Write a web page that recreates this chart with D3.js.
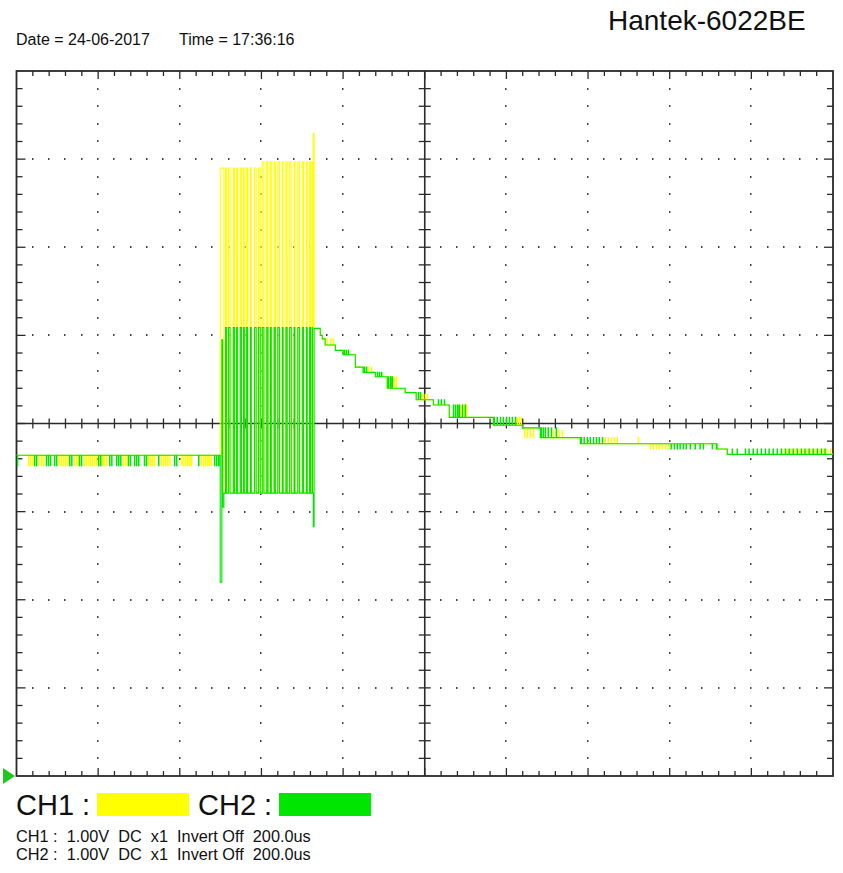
<!DOCTYPE html>
<html><head><meta charset="utf-8">
<script src="https://cdn.jsdelivr.net/npm/d3@7"></script>
<style>
html,body{margin:0;padding:0;background:#fff;}
svg{display:block;}
text{font-family:"Liberation Sans",Arial,sans-serif;fill:#111;}
</style></head><body>
<svg id="chart" width="843" height="873"></svg>
<script>
// ---------------- data ----------------
const titleText = "Hantek-6022BE";
const dateLabel = "Date = 24-06-2017";
const timeLabel = "Time = 17:36:16";
const channelNames = ["CH1 :", "CH2 :"];
const channelInfo = ["CH1 :  1.00V  DC  x1  Invert Off  200.0us",
                     "CH2 :  1.00V  DC  x1  Invert Off  200.0us"];
const timeDomain = [0, 2000];   // microseconds (10 div x 200us)
const voltDomain = [-4, 4];     // volts (8 div x 1.00V)
const divX = 10, divY = 8, subDiv = 5;

// burst (shared edges of both channels): time (us) and state 1=high 0=low
const burstTimes  = [508,512,514,519,523,531,534,539,541,548,551,556,558,563,566,573,575,583,587,593,597,602,606,613,616,622,624,631,634,640,644,651,653,660,663,669,673,680,682,689,693,700,703,710,712,718,720,724,725];
const burstStates = [0,1,0,1,0,1,0,1,0,1,0,1,0,1,0,1,0,1,0,1,0,1,0,1,0,1,0,1,0,1,0,1,0,1,0,1,0,1,0,1,0,1,0,1,0,1,0,1,0];

// CH1 (yellow)
const ch1Pre = [[0,-0.36],[499,2.90]];
const ch1BurstHigh = [[499,2.90],[600,2.97]];
const ch1BurstLow = -0.79;
const ch1Post = [[727,3.29]];
const ch1Decay = [[729,1.08],[744,1.00],[749,0.96],[756,0.89],[781,0.83],[800,0.78],[830,0.64],[849,0.58],[879,0.53],[908,0.40],[952,0.35],[979,0.27],[1021,0.21],[1060,0.07],[1168,-0.02],[1239,-0.05],[1283,-0.16],[1381,-0.23],[1716,-0.29],[1741,-0.35]];
const ch1Glitches = [
  [29,-0.48],[34,-0.48],[39,-0.48],[56,-0.48],[61,-0.48],[66,-0.48],[105,-0.48],[110,-0.48],[115,-0.48],[120,-0.48],[125,-0.48],
  [142,-0.48],[147,-0.48],[152,-0.48],[166,-0.48],[171,-0.48],[176,-0.48],[181,-0.48],[186,-0.48],[191,-0.48],[196,-0.48],
  [211,-0.48],[215,-0.48],[220,-0.48],[262,-0.48],[267,-0.48],[272,-0.48],[323,-0.48],[328,-0.48],[333,-0.48],[338,-0.48],
  [355,-0.48],[360,-0.48],[365,-0.48],[370,-0.48],[375,-0.48],[404,-0.48],[409,-0.48],[414,-0.48],[419,-0.48],[424,-0.48],[428,-0.48],
  [453,-0.48],[458,-0.48],[463,-0.48],[468,-0.48],[472,-0.48],[477,-0.48],
  [761,0.96],[769,0.96],[776,0.96],[803,0.83],[808,0.83],[862,0.64],[869,0.64],
  [916,0.53],[920,0.53],[925,0.53],[930,0.53],[991,0.33],[996,0.33],[1001,0.33],[1006,0.33],
  [1087,0.21],[1092,0.21],[1097,0.21],[1102,0.21],[1226,0.07],[1231,0.07],[1236,0.07],
  [1244,-0.16],[1251,-0.16],[1258,-0.16],[1266,-0.16],[1315,-0.08],[1322,-0.08],[1329,-0.08],[1337,-0.08],
  [1435,-0.16],[1442,-0.16],[1449,-0.16],[1457,-0.16],[1464,-0.16],[1471,-0.16],[1523,-0.16],
  [1552,-0.29],[1559,-0.29],[1567,-0.29],[1574,-0.29],[1581,-0.29],[1589,-0.29],[1596,-0.29],
  [1875,-0.29],[1887,-0.29],[1896,-0.29],[1906,-0.29],[1916,-0.29],[1926,-0.29],[1935,-0.29],[1945,-0.29],
  [1955,-0.29],[1965,-0.29],[1975,-0.29],[1984,-0.29],[1994,-0.29]
];

// CH2 (green)
const ch2Pre = [[0,-0.36],[499,-1.80],[503,0.95],[505,-0.95]];
const ch2BurstHigh = [[499,1.09]];
const ch2BurstLow = -0.79;
const ch2Post = [[727,-1.17]];
const ch2Decay = [[729,1.08],[744,1.00],[749,0.96],[756,0.89],[781,0.83],[800,0.78],[830,0.64],[849,0.58],[879,0.53],[908,0.40],[952,0.35],[979,0.27],[1021,0.21],[1060,0.07],[1168,-0.02],[1239,-0.05],[1283,-0.16],[1381,-0.23],[1716,-0.29],[1741,-0.35]];
const ch2Glitches = [
  [2,-0.48],[44,-0.48],[49,-0.48],[73,-0.48],[78,-0.48],[83,-0.48],[93,-0.48],[98,-0.48],[130,-0.48],[135,-0.48],
  [154,-0.48],[159,-0.48],[201,-0.48],[206,-0.48],[228,-0.48],[233,-0.48],[245,-0.48],[250,-0.48],[255,-0.48],
  [274,-0.48],[279,-0.48],[289,-0.48],[294,-0.48],[299,-0.48],[313,-0.48],[318,-0.48],[348,-0.48],[387,-0.48],
  [392,-0.48],[446,-0.48],[485,-0.48],[490,-0.48],[495,-0.48],
  [803,0.83],[808,0.83],[813,0.83],[852,0.64],[857,0.64],[884,0.58],[889,0.58],[894,0.58],
  [911,0.53],[916,0.53],[920,0.53],[984,0.35],[989,0.35],[1033,0.27],[1040,0.27],[1048,0.27],
  [1070,0.21],[1075,0.21],[1080,0.21],[1084,0.21],[1092,0.21],[1099,0.21],
  [1170,0.07],[1177,0.07],[1185,0.07],[1192,0.07],[1200,0.07],[1207,0.07],[1214,0.07],[1222,0.07],
  [1285,-0.05],[1290,-0.05],[1295,-0.05],[1302,-0.05],[1310,-0.05],[1322,-0.05],
  [1383,-0.16],[1390,-0.16],[1398,-0.16],[1405,-0.16],[1413,-0.16],[1420,-0.16],[1427,-0.16],[1435,-0.16],
  [1603,-0.29],[1611,-0.29],[1618,-0.29],[1625,-0.29],[1633,-0.29],[1640,-0.29],[1650,-0.29],[1662,-0.29],
  [1674,-0.29],[1682,-0.29],[1704,-0.29],[1714,-0.29],
  [1753,-0.29],[1765,-0.29],[1785,-0.29],[1794,-0.29],[1804,-0.29],[1814,-0.29],[1824,-0.29],[1834,-0.29],
  [1843,-0.29],[1853,-0.29],[1863,-0.29],[1873,-0.29],[1883,-0.29],[1892,-0.29],[1902,-0.29],[1912,-0.29],
  [1922,-0.29],[1931,-0.29],[1941,-0.29],[1951,-0.29],[1961,-0.29],[1971,-0.29],[1980,-0.29]
];

const ch1Color = "#ffff00";
const ch2Color = "#00e600";
const gridColor = "#2a2a2a";
const glitchWidth = 1.0; // us

// ---------------- layout ----------------
const svg = d3.select("#chart");
const plot = {left: 16.5, right: 833, top: 71, bottom: 776};
const x = d3.scaleLinear().domain(timeDomain).range([plot.left, plot.right]);
const y = d3.scaleLinear().domain(voltDomain).range([plot.bottom, plot.top]);
const xc = x(1000), yc = y(0);
const stepX = (timeDomain[1]-timeDomain[0])/(divX*subDiv);
const stepY = (voltDomain[1]-voltDomain[0])/(divY*subDiv);

// header text
svg.append("text").attr("x", 608).attr("y", 30).attr("font-size", 28).text(titleText);
svg.append("text").attr("x", 16).attr("y", 45).attr("font-size", 16).text(dateLabel);
svg.append("text").attr("x", 179).attr("y", 45).attr("font-size", 16).text(timeLabel);

// dotted grid
const gGrid = svg.append("g");
for (let i = 1; i < divX; i++) {
  if (i === divX/2) continue;
  const gx = x(timeDomain[0] + i*subDiv*stepX);
  for (let k = 1; k < divY*subDiv; k++) {
    if (k === divY*subDiv/2) continue;
    gGrid.append("rect").attr("x", Math.round(gx)-1).attr("y", Math.round(y(voltDomain[0]+k*stepY))-1)
      .attr("width", 1.5).attr("height", 2).attr("fill", "#444");
  }
}
for (let j = 1; j < divY; j++) {
  if (j === divY/2) continue;
  const gy = y(voltDomain[0] + j*subDiv*stepY);
  for (let k = 1; k < divX*subDiv; k++) {
    if (k % subDiv === 0) continue;
    gGrid.append("rect").attr("x", Math.round(x(timeDomain[0]+k*stepX))-1).attr("y", Math.round(gy)-1)
      .attr("width", 1.5).attr("height", 2).attr("fill", "#444");
  }
}

// frame + ticks
const gAx = svg.append("g").attr("stroke", gridColor);
gAx.append("rect").attr("x", plot.left).attr("y", plot.top)
  .attr("width", plot.right-plot.left).attr("height", plot.bottom-plot.top)
  .attr("fill", "none").attr("stroke-width", 1.8);
gAx.append("line").attr("x1", plot.left).attr("x2", plot.right).attr("y1", yc).attr("y2", yc).attr("stroke-width", 1.6);
gAx.append("line").attr("x1", xc).attr("x2", xc).attr("y1", plot.top).attr("y2", plot.bottom).attr("stroke-width", 1.6);
for (let k = 1; k < divX*subDiv; k++) {
  const tx = x(timeDomain[0]+k*stepX);
  const len = (k % subDiv === 0) ? 8 : 5;
  gAx.append("line").attr("x1", tx).attr("x2", tx).attr("y1", plot.top).attr("y2", plot.top+len).attr("stroke-width", 1.3);
  gAx.append("line").attr("x1", tx).attr("x2", tx).attr("y1", plot.bottom).attr("y2", plot.bottom-len).attr("stroke-width", 1.3);
  gAx.append("line").attr("x1", tx).attr("x2", tx).attr("y1", yc-5).attr("y2", yc+5).attr("stroke-width", 1.3);
}
for (let k = 1; k < divY*subDiv; k++) {
  const ty = y(voltDomain[0]+k*stepY);
  const len = (k % subDiv === 0) ? 9 : 6;
  gAx.append("line").attr("x1", plot.left).attr("x2", plot.left+len).attr("y1", ty).attr("y2", ty).attr("stroke-width", 1.3);
  gAx.append("line").attr("x1", plot.right).attr("x2", plot.right-len).attr("y1", ty).attr("y2", ty).attr("stroke-width", 1.3);
  gAx.append("line").attr("x1", xc-6).attr("x2", xc+6).attr("y1", ty).attr("y2", ty).attr("stroke-width", 1.3);
}

// ---------------- traces ----------------
function levelFrom(list, t) { let v = list[0][1]; for (const d of list) { if (d[0] <= t) v = d[1]; } return v; }
function buildLevels(pre, high, low, post, decay) {
  const burst = burstTimes.map((t, i) => [t, burstStates[i] ? levelFrom(high, t) : low]);
  return pre.concat(burst, post, decay);
}
function tracePoints(levels, glitches) {
  const ev = levels.map(d => ({t: d[0], v: d[1], o: 0}));
  glitches.forEach(d => {
    ev.push({t: d[0], v: d[1], o: 1});
    ev.push({t: d[0] + glitchWidth, v: levelFrom(levels, d[0] + glitchWidth), o: 2});
  });
  ev.sort((a, b) => a.t - b.t || a.o - b.o);
  ev.push({t: timeDomain[1], v: levelFrom(levels, timeDomain[1])});
  return ev;
}
svg.append("clipPath").attr("id", "clip").append("rect")
  .attr("x", plot.left).attr("y", plot.top).attr("width", plot.right-plot.left).attr("height", plot.bottom-plot.top);
const line = d3.line().curve(d3.curveStepAfter).x(d => x(d.t)).y(d => y(d.v));
const gTr = svg.append("g").attr("clip-path", "url(#clip)");
const ch1 = tracePoints(buildLevels(ch1Pre, ch1BurstHigh, ch1BurstLow, ch1Post, ch1Decay), ch1Glitches);
const ch2 = tracePoints(buildLevels(ch2Pre, ch2BurstHigh, ch2BurstLow, ch2Post, ch2Decay), ch2Glitches);
gTr.append("path").datum(ch1).attr("d", line).attr("fill", "none").attr("stroke", ch1Color).attr("stroke-width", 1.1);
gTr.append("path").datum(ch2).attr("d", line).attr("fill", "none").attr("stroke", ch2Color).attr("stroke-width", 1.1);

// trigger/level marker
svg.append("path").attr("d", `M3,${plot.bottom-8} L15,${plot.bottom} L3,${plot.bottom+8} Z`).attr("fill", "#1ec81e");

// ---------------- legend ----------------
svg.append("text").attr("x", 16).attr("y", 815).attr("font-size", 29).text(channelNames[0]);
svg.append("rect").attr("x", 97).attr("y", 793).attr("width", 92).attr("height", 23).attr("fill", ch1Color);
svg.append("text").attr("x", 198).attr("y", 815).attr("font-size", 29).text(channelNames[1]);
svg.append("rect").attr("x", 279).attr("y", 793).attr("width", 92).attr("height", 23).attr("fill", ch2Color);
channelInfo.forEach((s, i) => {
  svg.append("text").attr("x", 16).attr("y", 842 + i*18).attr("font-size", 16.3)
    .attr("xml:space", "preserve").style("white-space", "pre").text(s);
});
</script>
</body></html>
